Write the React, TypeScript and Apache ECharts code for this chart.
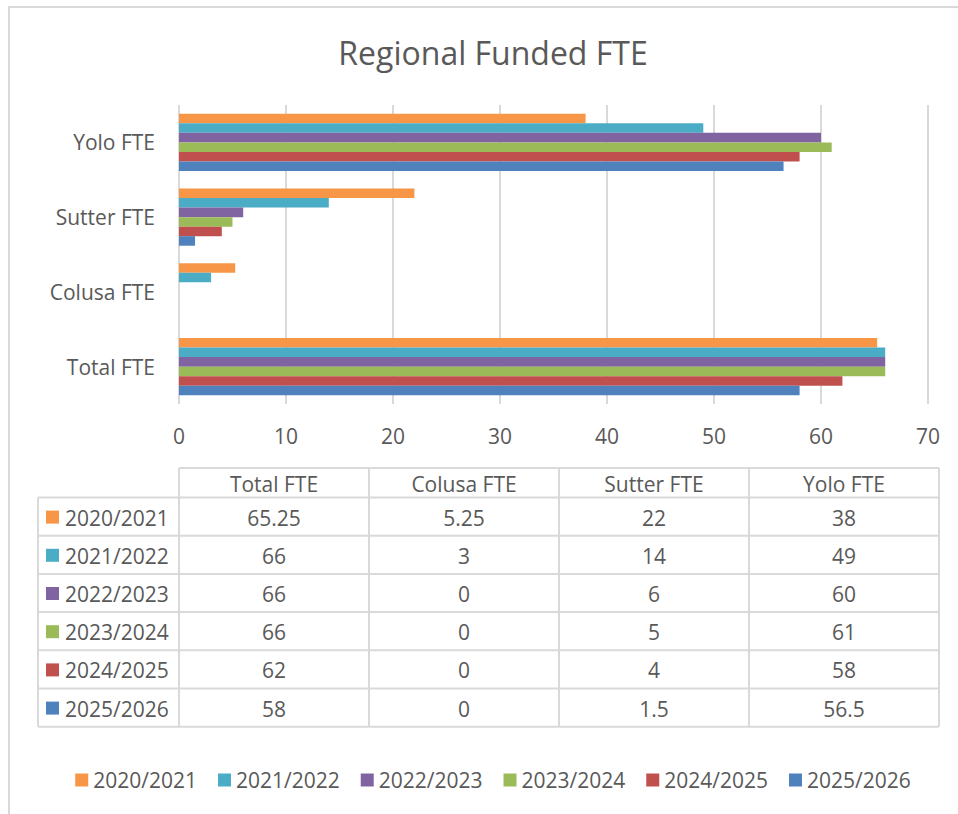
import React, { useEffect, useRef } from 'react';
import * as echarts from 'echarts';

const categories = ['Total FTE', 'Colusa FTE', 'Sutter FTE', 'Yolo FTE'];
const years = ['2020/2021', '2021/2022', '2022/2023', '2023/2024', '2024/2025', '2025/2026'];
const fte2020 = [65.25, 5.25, 22, 38];
const fte2021 = [66, 3, 14, 49];
const fte2022 = [66, 0, 6, 60];
const fte2023 = [66, 0, 5, 61];
const fte2024 = [62, 0, 4, 58];
const fte2025 = [58, 0, 1.5, 56.5];
const seriesValues = [fte2020, fte2021, fte2022, fte2023, fte2024, fte2025];
const colors = ['#F79646', '#4BACC6', '#8064A2', '#9BBB59', '#C0504D', '#4F81BD'];
const axisMin = 0;
const axisMax = 70;
const axisStep = 10;

const FONT = '"Open Sans", "Noto Sans", sans-serif';
const TXT = '#595959';
const LINE = '#d9d9d9';

function buildTable(): any[] {
  const els: any[] = [];
  const left = 38;
  const labelRight = 179;
  const colW = 190;
  const right = labelRight + colW * categories.length;
  const headTop = 468;
  const headBottom = 497.5;
  const rowH = 38.2;
  const bottom = headBottom + rowH * years.length;
  const ls = { stroke: LINE, lineWidth: 2 };
  els.push({ type: 'line', shape: { x1: labelRight, y1: headTop, x2: right, y2: headTop }, style: ls, silent: true });
  for (let i = 0; i <= years.length; i++) {
    const y = headBottom + rowH * i;
    els.push({ type: 'line', shape: { x1: left, y1: y, x2: right, y2: y }, style: ls, silent: true });
  }
  els.push({ type: 'line', shape: { x1: left, y1: headBottom, x2: left, y2: bottom }, style: ls, silent: true });
  for (let c = 0; c <= categories.length; c++) {
    const x = labelRight + colW * c;
    els.push({ type: 'line', shape: { x1: x, y1: headTop, x2: x, y2: bottom }, style: ls, silent: true });
  }
  categories.forEach((cat, c) => {
    els.push({
      type: 'text',
      silent: true,
      style: {
        text: cat, x: labelRight + colW * c + colW / 2, y: (headTop + headBottom) / 2 + 1,
        textAlign: 'center', textVerticalAlign: 'middle', fill: TXT, fontSize: 21, fontFamily: FONT,
      },
    });
  });
  years.forEach((yr, r) => {
    const cy = headBottom + rowH * r + rowH / 2 + 1;
    els.push({ type: 'rect', silent: true, shape: { x: 46, y: cy - 7, width: 13, height: 13 }, style: { fill: colors[r] } });
    els.push({
      type: 'text', silent: true,
      style: { text: yr, x: 65, y: cy, textAlign: 'left', textVerticalAlign: 'middle', fill: TXT, fontSize: 21, fontFamily: FONT },
    });
    seriesValues[r].forEach((v, c) => {
      els.push({
        type: 'text', silent: true,
        style: {
          text: String(v), x: labelRight + colW * c + colW / 2, y: cy,
          textAlign: 'center', textVerticalAlign: 'middle', fill: TXT, fontSize: 21, fontFamily: FONT,
        },
      });
    });
  });
  return els;
}

export default function App() {
  const ref = useRef<HTMLDivElement>(null);
  useEffect(() => {
    if (!ref.current) return;
    const chart = echarts.init(ref.current, null, { renderer: 'svg' });
    const option: any = {
      animation: false,
      backgroundColor: '#ffffff',
      color: colors,
      title: {
        text: 'Regional Funded FTE',
        left: 'center',
        top: 36,
        padding: 0,
        textStyle: { color: TXT, fontSize: 32, fontWeight: 'normal', fontFamily: FONT, lineHeight: 32 },
      },
      legend: {
        data: years,
        left: 'center',
        top: 769,
        padding: 0,
        icon: 'rect',
        itemWidth: 13,
        itemHeight: 13,
        itemGap: 21,
        textStyle: { color: TXT, fontSize: 21, fontFamily: FONT, lineHeight: 22 },
      },
      grid: { left: 179, right: 58, top: 105, bottom: 410, containLabel: false, outerBoundsMode: 'none' },
      xAxis: {
        type: 'value',
        min: axisMin,
        max: axisMax,
        interval: axisStep,
        axisLine: { show: false },
        axisTick: { show: false },
        axisLabel: { color: TXT, fontSize: 21, fontFamily: FONT, margin: 21, lineHeight: 22 },
        splitLine: { show: true, lineStyle: { color: LINE, width: 2 } },
      },
      yAxis: {
        type: 'category',
        data: categories,
        axisLine: { show: false },
        axisTick: { show: false },
        axisLabel: { color: TXT, fontSize: 21, fontFamily: FONT, margin: 24 },
        splitLine: { show: false },
      },
      series: years.map((y, i) => ({
        name: y,
        type: 'bar',
        data: seriesValues[i],
        barGap: '0%',
        barCategoryGap: '23.5%',
        itemStyle: { color: colors[i] },
      })),
      graphic: [
        {
          type: 'rect', silent: true,
          shape: { x: 9, y: 7, width: 1200, height: 1000 },
          style: { fill: 'none', stroke: LINE, lineWidth: 2 },
        },
        ...buildTable(),
      ],
    };
    chart.setOption(option);
    return () => chart.dispose();
  }, []);
  return (
    <div style={{ position: 'fixed', left: 0, top: 0, width: 958, height: 814, overflow: 'hidden', background: '#fff' }}>
      <div ref={ref} style={{ width: 986, height: 814 }} />
    </div>
  );
}
